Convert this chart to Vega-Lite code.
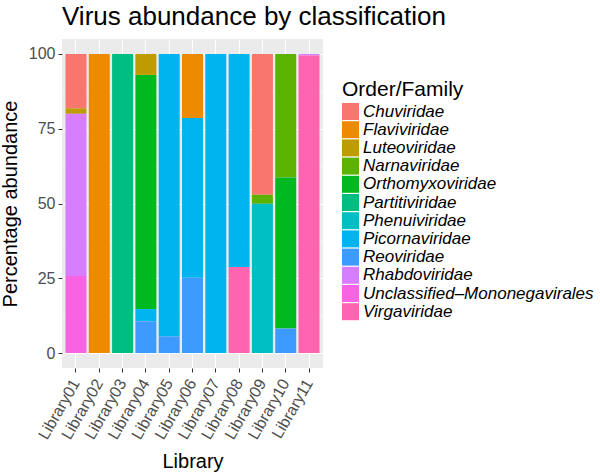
{
  "$schema": "https://vega.github.io/schema/vega-lite/v6.json",
  "autosize": "none",
  "padding": {"left": 62, "top": 39, "right": 278, "bottom": 105},
  "width": 261,
  "height": 329,
  "background": "white",
  "title": {"text": "Virus abundance by classification", "anchor": "start", "frame": "group", "fontSize": 26, "font": "Liberation Sans", "fontWeight": "normal", "color": "black", "offset": 9},
  "config": {
    "font": "Liberation Sans",
    "view": {"fill": "#EBEBEB", "stroke": null}
  },
  "data": {"values": [
    {"Library": "Library01", "Family": "Chuviridae", "value": 18.2},
    {"Library": "Library01", "Family": "Luteoviridae", "value": 1.8},
    {"Library": "Library01", "Family": "Rhabdoviridae", "value": 54.2},
    {"Library": "Library01", "Family": "Unclassified–Mononegavirales", "value": 25.8},
    {"Library": "Library02", "Family": "Flaviviridae", "value": 100},
    {"Library": "Library03", "Family": "Partitiviridae", "value": 100},
    {"Library": "Library04", "Family": "Luteoviridae", "value": 7.0},
    {"Library": "Library04", "Family": "Orthomyxoviridae", "value": 78.3},
    {"Library": "Library04", "Family": "Picornaviridae", "value": 4.1},
    {"Library": "Library04", "Family": "Reoviridae", "value": 10.6},
    {"Library": "Library05", "Family": "Picornaviridae", "value": 94.4},
    {"Library": "Library05", "Family": "Reoviridae", "value": 5.6},
    {"Library": "Library06", "Family": "Flaviviridae", "value": 21.4},
    {"Library": "Library06", "Family": "Picornaviridae", "value": 53.4},
    {"Library": "Library06", "Family": "Reoviridae", "value": 25.2},
    {"Library": "Library07", "Family": "Picornaviridae", "value": 100},
    {"Library": "Library08", "Family": "Picornaviridae", "value": 71.2},
    {"Library": "Library08", "Family": "Virgaviridae", "value": 28.8},
    {"Library": "Library09", "Family": "Chuviridae", "value": 47.1},
    {"Library": "Library09", "Family": "Narnaviridae", "value": 3.0},
    {"Library": "Library09", "Family": "Phenuiviridae", "value": 49.9},
    {"Library": "Library10", "Family": "Narnaviridae", "value": 41.3},
    {"Library": "Library10", "Family": "Orthomyxoviridae", "value": 50.5},
    {"Library": "Library10", "Family": "Reoviridae", "value": 8.2},
    {"Library": "Library11", "Family": "Rhabdoviridae", "value": 0.5},
    {"Library": "Library11", "Family": "Virgaviridae", "value": 99.5}
  ]},
  "mark": {"type": "bar"},
  "encoding": {
    "x": {
      "field": "Library", "type": "nominal",
      "scale": {"paddingInner": 0.1, "paddingOuter": 0.15},
      "axis": {
        "title": "Library", "titleFontSize": 20, "titleFontWeight": "normal", "titleColor": "black", "titlePadding": 10,
        "labelAngle": -60, "labelAlign": "right", "labelBaseline": "middle", "labelFontSize": 16, "labelColor": "#4D4D4D", "labelPadding": 8,
        "domain": false, "ticks": true, "tickSize": 4, "tickColor": "#333333", "tickWidth": 1,
        "grid": true, "gridColor": "white", "gridWidth": 1.1, "bandPosition": 0.5
      }
    },
    "y": {
      "field": "value", "type": "quantitative", "stack": "zero",
      "scale": {"domain": [-5, 105], "nice": false, "zero": false},
      "axis": {
        "title": "Percentage abundance", "titleFontSize": 20, "titleFontWeight": "normal", "titleColor": "black", "titlePadding": 8,
        "values": [0, 12.5, 25, 37.5, 50, 62.5, 75, 87.5, 100],
        "labelExpr": "datum.value % 25 === 0 ? datum.label : ''",
        "labelFontSize": 16, "labelColor": "#4D4D4D", "labelPadding": 3,
        "domain": false, "tickSize": 4, "tickColor": "#333333",
        "tickOpacity": {"condition": {"test": "datum.value % 25 === 0", "value": 1}, "value": 0},
        "grid": true, "gridColor": "white",
        "gridWidth": {"condition": {"test": "datum.value % 25 === 0", "value": 1.1}, "value": 0.5}
      }
    },
    "color": {
      "field": "Family", "type": "nominal",
      "scale": {
        "domain": ["Chuviridae", "Flaviviridae", "Luteoviridae", "Narnaviridae", "Orthomyxoviridae", "Partitiviridae", "Phenuiviridae", "Picornaviridae", "Reoviridae", "Rhabdoviridae", "Unclassified–Mononegavirales", "Virgaviridae"],
        "range": ["#F8766D", "#EE8A00", "#BE9C00", "#5BB300", "#00B81F", "#00BE82", "#00BFC4", "#00B4F0", "#3D9BFF", "#D67EFF", "#F863E3", "#FF64B0"]
      },
      "legend": {
        "title": "Order/Family", "titleFontSize": 21, "titleFontWeight": "normal", "titleColor": "black", "titlePadding": 3,
        "orient": "none", "legendX": 280, "legendY": 40,
        "symbolType": "square", "symbolSize": 289, "symbolStrokeWidth": 0, "symbolOpacity": 1,
        "labelFontSize": 17, "labelFontStyle": "italic", "labelColor": "black", "labelOffset": 4,
        "rowPadding": 0.2, "labelLimit": 300
      }
    },
    "order": {"field": "Family", "sort": "descending"}
  }
}
